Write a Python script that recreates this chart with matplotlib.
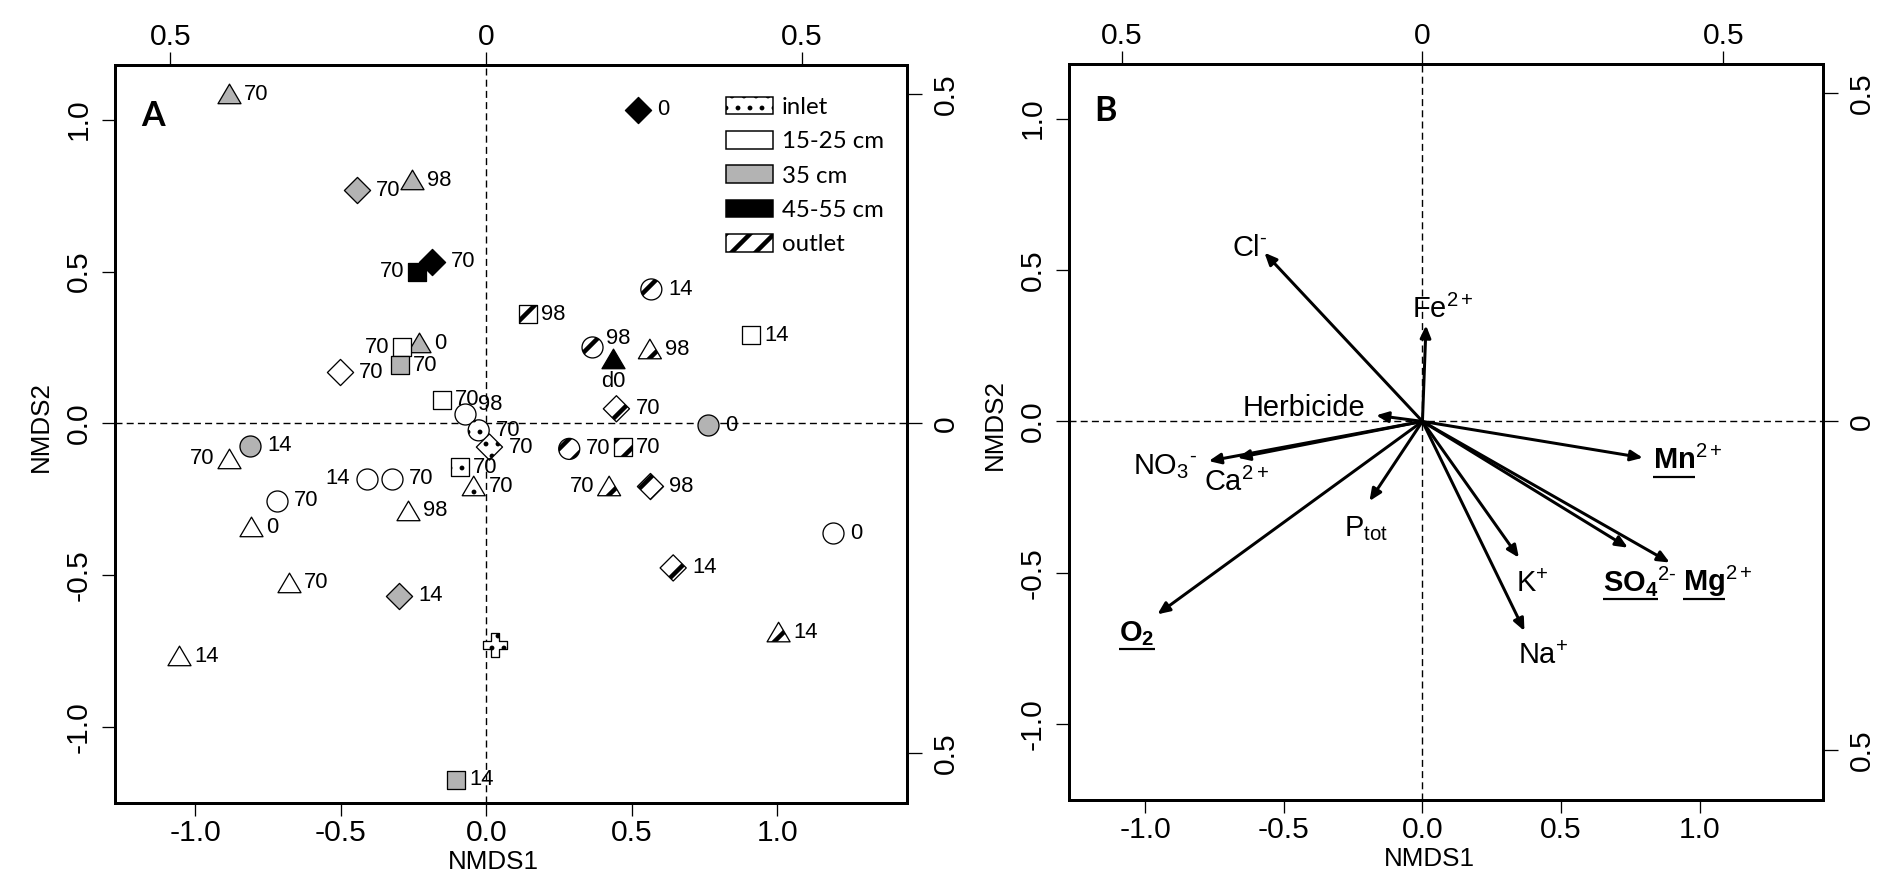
import numpy as np
import matplotlib
matplotlib.use('Agg')
import matplotlib.pyplot as plt
from matplotlib.patches import Rectangle
from matplotlib.path import Path

# ---------------- data ----------------
# Panel A: NMDS site scores
site_x = [-0.884, 0.522, -0.443, -0.254, -0.237, -0.186, 0.142, 0.567, 0.910, -0.289,
          -0.232, -0.295, -0.502, 0.365, 0.436, 0.562, -0.152, -0.072, 0.447, 0.761,
          -0.026, 0.011, -0.089, -0.043, -0.810, -0.882, -0.409, -0.325, -0.719, -0.269,
          -0.808, 0.285, 0.468, 0.422, 0.564, 1.192, -0.677, -0.300, 0.642, 0.029,
          -1.054, 1.004, -0.103]
site_y = [1.083, 1.033, 0.767, 0.800, 0.499, 0.532, 0.360, 0.441, 0.290, 0.250,
          0.263, 0.191, 0.169, 0.250, 0.213, 0.243, 0.078, 0.032, 0.048, -0.007,
          -0.023, -0.078, -0.144, -0.208, -0.073, -0.117, -0.183, -0.183, -0.254, -0.287,
          -0.342, -0.084, -0.078, -0.208, -0.208, -0.362, -0.524, -0.568, -0.476, -0.730,
          -0.766, -0.689, -1.173]
site_depth = ['35 cm', '45-55 cm', '35 cm', '35 cm', '45-55 cm', '45-55 cm', 'outlet', 'outlet', '15-25 cm', '15-25 cm',
              '35 cm', '35 cm', '15-25 cm', 'outlet', '45-55 cm', 'outlet', '15-25 cm', '15-25 cm', 'outlet', '35 cm',
              'inlet', 'inlet', 'inlet', 'inlet', '35 cm', '15-25 cm', '15-25 cm', '15-25 cm', '15-25 cm', '15-25 cm',
              '15-25 cm', 'outlet', 'outlet', 'outlet', 'outlet', '15-25 cm', '15-25 cm', '35 cm', 'outlet', 'inlet',
              '15-25 cm', 'outlet', '35 cm']
site_shape = ['tri', 'dia', 'dia', 'tri', 'sq', 'dia', 'sq', 'circ', 'sq', 'sq',
              'tri', 'sq', 'dia', 'circ', 'tri', 'tri', 'sq', 'circ', 'dia', 'circ',
              'circ', 'dia', 'sq', 'tri', 'circ', 'tri', 'circ', 'circ', 'circ', 'tri',
              'tri', 'circ', 'sq', 'tri', 'dia', 'circ', 'tri', 'dia', 'dia', 'cross',
              'tri', 'tri', 'sq']
site_day = ['70', '0', '70', '98', '70', '70', '98', '14', '14', '70',
            '0', '70', '70', '98', 'd0', '98', '70', '98', '70', '0',
            '70', '70', '70', '70', '14', '70', '14', '70', '70', '98',
            '0', '70', '70', '70', '98', '0', '70', '14', '14', '',
            '14', '14', '14']
legend_labels = ['inlet', '15-25 cm', '35 cm', '45-55 cm', 'outlet']

# Panel B: fitted environmental vectors
var_names = ['Cl-', 'Fe2+', 'Herbicide', 'NO3-', 'Ca2+', 'Ptot', 'O2',
             'Mn2+', 'K+', 'Na+', 'SO42-', 'Mg2+']
var_x = [-0.570, 0.013, -0.167, -0.771, -0.667, -0.191, -0.956,
         0.795, 0.348, 0.368, 0.741, 0.892]
var_y = [0.557, 0.317, 0.020, -0.131, -0.120, -0.263, -0.637,
         -0.120, -0.450, -0.692, -0.417, -0.466]

# ---------------- layout / style (not data) ----------------
label_side = ['r', 'r', 'r', 'r', 'l', 'r', 'r', 'r', 'r', 'l',
              'r', 'r', 'r', 'ur', 'b', 'r', 'r', 'ur', 'r', 'r',
              'r', 'r', 'r', 'r', 'r', 'l', 'l', 'r', 'r', 'r',
              'r', 'r', 'r', 'l', 'r', 'r', 'r', 'r', 'r', '',
              'r', 'r', 'r']
var_text = {
    'Cl-': r'$\mathregular{Cl^{\text{-}}}$',
    'Fe2+': r'$\mathregular{Fe^{2+}}$',
    'Herbicide': 'Herbicide',
    'NO3-': r'$\mathregular{NO_3}^{\text{-}}$',
    'Ca2+': r'$\mathregular{Ca^{2+}}$',
    'Ptot': r'$\mathregular{P_{tot}}$',
    'O2': r'$\mathbf{O_2}$',
    'Mn2+': r'$\mathbf{Mn}^{\mathregular{2+}}$',
    'K+': r'$\mathregular{K^{+}}$',
    'Na+': r'$\mathregular{Na^{+}}$',
    'SO42-': r'$\mathbf{SO_4}^{\mathregular{2}\text{-}}$',
    'Mg2+': r'$\mathbf{Mg}^{\mathregular{2+}}$',
}
underline_base = {'O2': r'$\mathbf{O_2}$', 'Mn2+': r'$\mathbf{Mn}$',
                  'SO42-': r'$\mathbf{SO_4}$', 'Mg2+': r'$\mathbf{Mg}$'}
# label anchor (left, baseline) in data coords
var_label_pos = {
    'Cl-': (-0.686, 0.545), 'Fe2+': (-0.036, 0.343), 'Herbicide': (-0.650, 0.017),
    'NO3-': (-1.043, -0.175), 'Ca2+': (-0.787, -0.231), 'Ptot': (-0.282, -0.380),
    'O2': (-1.094, -0.726), 'Mn2+': (0.830, -0.158), 'K+': (0.339, -0.564),
    'Na+': (0.343, -0.802), 'SO42-': (0.650, -0.561), 'Mg2+': (0.939, -0.561),
}

DPI = 72
plt.rcParams['font.family'] = ['Liberation Sans', 'DejaVu Sans']
plt.rcParams['mathtext.fontset'] = 'custom'
plt.rcParams['mathtext.rm'] = 'Liberation Sans'
plt.rcParams['mathtext.bf'] = 'Liberation Sans:bold'
plt.rcParams['mathtext.it'] = 'Liberation Sans:italic'
plt.rcParams['axes.unicode_minus'] = False
plt.rcParams['hatch.color'] = 'black'

HATCH_LW = {'outlet': 4.5, 'inlet': 2.4}
GRAY = '#b3b3b3'
depth_style = {
    'inlet': dict(fc='white', hatch='.'),
    '15-25 cm': dict(fc='white', hatch=None),
    '35 cm': dict(fc=GRAY, hatch=None),
    '45-55 cm': dict(fc='black', hatch=None),
    'outlet': dict(fc='white', hatch='/'),
}
tri_path = Path([(-1, -0.8), (1, -0.8), (0, 0.9), (-1, -0.8)],
                [Path.MOVETO, Path.LINETO, Path.LINETO, Path.CLOSEPOLY])
shape_marker = {'circ': ('o', 21), 'sq': ('s', 18), 'tri': (tri_path, 23),
                'dia': ('D', 18.5), 'cross': ('P', 24)}
shape_off = {'circ': 17, 'sq': 13, 'tri': 15, 'dia': 19, 'cross': 15}

K = 2.17  # species-score axis scale

fig = plt.figure(figsize=(1883 / DPI, 890 / DPI), dpi=DPI)
axA = fig.add_axes([115 / 1883, (890 - 803) / 890, 792 / 1883, 738 / 890])
axB = fig.add_axes([1069 / 1883, (890 - 800) / 890, 754 / 1883, 736 / 890])

ticks = [-1.0, -0.5, 0.0, 0.5, 1.0]
tlabels = ['-1.0', '-0.5', '0.0', '0.5', '1.0']


def setup(ax):
    ax.set_xlim(-1.275, 1.445)
    ax.set_ylim(-1.25, 1.18)
    ax.set_xticks(ticks)
    ax.set_xticklabels(tlabels)
    ax.set_yticks(ticks)
    ax.set_yticklabels(tlabels, rotation=90, va='center')
    ax.tick_params(axis='both', direction='out', length=13, width=1.3,
                   labelsize=30)
    ax.tick_params(axis='x', pad=3)
    ax.tick_params(axis='y', pad=9)
    for sp in ax.spines.values():
        sp.set_linewidth(3)
    ax.axhline(0, ls=(0, (5, 3)), lw=1.4, color='black', zorder=1)
    ax.axvline(0, ls=(0, (5, 3)), lw=1.4, color='black', zorder=1)
    sx = ax.secondary_xaxis('top', functions=(lambda v: v / K, lambda v: v * K))
    sx.set_ticks([-0.5, 0, 0.5], labels=['0.5', '0', '0.5'])
    sx.tick_params(direction='out', length=13, width=1.3, labelsize=30, pad=1)
    sx.spines['top'].set_linewidth(3)
    sy = ax.secondary_yaxis('right', functions=(lambda v: v / K, lambda v: v * K))
    sy.set_ticks([-0.5, 0, 0.5], labels=['0.5', '0', '0.5'], rotation=90, va='center')
    sy.tick_params(direction='out', length=15, width=1.3, labelsize=30, pad=10)
    sy.spines['right'].set_linewidth(3)
    ax.set_xlabel('NMDS1', fontsize=26, labelpad=3)
    ax.set_ylabel('NMDS2', fontsize=26, labelpad=12)
    ax.xaxis.label.set_x(0.478)
    ax.yaxis.label.set_y(0.51)


setup(axA)
setup(axB)

# ---------------- Panel A ----------------
sx_arr = np.array(site_x)
sy_arr = np.array(site_y)
groups = {}
for i, (d, s) in enumerate(zip(site_depth, site_shape)):
    groups.setdefault((d, s), []).append(i)
for (d, s), idx in groups.items():
    st = depth_style[d]
    mk, ms = shape_marker[s]
    kw = {}
    hlw = HATCH_LW.get(d, 1.0)
    if st['hatch']:
        kw['hatch'] = st['hatch']
    with plt.rc_context({'hatch.linewidth': hlw}):
        coll = axA.scatter(sx_arr[idx], sy_arr[idx], s=ms ** 2, marker=mk,
                           facecolor=st['fc'], edgecolor='black', linewidth=1.3,
                           zorder=3, **kw)
    if st['hatch'] and hasattr(coll, 'set_hatch_linewidth'):
        coll.set_hatch_linewidth(hlw)

for i, lab in enumerate(site_day):
    if not lab:
        continue
    off = shape_off[site_shape[i]]
    side = label_side[i]
    if side == 'r':
        xt, ha = (off, 0), 'left'
    elif side == 'l':
        xt, ha = (-off, 0), 'right'
    elif side == 'ur':
        xt, ha = (off - 4, 9), 'left'
    else:
        xt, ha = (0, -23), 'center'
    axA.annotate(lab, xy=(site_x[i], site_y[i]), xytext=xt,
                 textcoords='offset points', ha=ha, va='center',
                 fontsize=22, zorder=4)

handles = []
for name in legend_labels:
    st = depth_style[name]
    p = Rectangle((0, 0), 1, 1, facecolor=st['fc'], edgecolor='black',
                  linewidth=1.5, hatch=st['hatch'])
    handles.append(p)
leg = axA.legend(handles, legend_labels, loc='upper left',
                 bbox_to_anchor=(0.772, 0.957), frameon=False,
                 prop={'family': 'Lato', 'size': 24}, handlelength=1.92,
                 handleheight=0.75, handletextpad=0.4, labelspacing=0.55,
                 borderpad=0, borderaxespad=0)
for name, p in zip(legend_labels, leg.get_patches()):
    if depth_style[name]['hatch'] and hasattr(p, 'set_hatch_linewidth'):
        p.set_hatch_linewidth(HATCH_LW[name])
axA.text(0.0486, 0.931, 'A', transform=axA.transAxes, ha='center', va='center',
         fontsize=34, fontweight='bold', family='Lato')

# ---------------- Panel B ----------------
for name, x, y in zip(var_names, var_x, var_y):
    axB.annotate('', xy=(x, y), xytext=(0, 0),
                 arrowprops=dict(arrowstyle='-|>,head_length=0.5,head_width=0.22',
                                 lw=3, color='black', shrinkA=0, shrinkB=0,
                                 mutation_scale=20), zorder=3)
for name in var_names:
    lx, ly = var_label_pos[name]
    axB.text(lx, ly, var_text[name], ha='left', va='baseline', fontsize=29,
             zorder=4)
axB.text(0.048, 0.936, 'B', transform=axB.transAxes, ha='center', va='center',
         fontsize=34, fontweight='bold', family='Lato')

fig.canvas.draw()
renderer = fig.canvas.get_renderer()
for name, base in underline_base.items():
    lx, ly = var_label_pos[name]
    t = axB.text(lx, ly, base, ha='left', va='baseline', fontsize=29, alpha=0)
    bb = t.get_window_extent(renderer)
    _, by = axB.transData.transform((lx, ly))
    uy = by - 8
    inv = axB.transData.inverted()
    p0 = inv.transform((bb.x0, uy))
    p1 = inv.transform((bb.x1, uy))
    axB.plot([p0[0], p1[0]], [p0[1], p1[1]], color='black', lw=2.2,
             solid_capstyle='butt', zorder=4)
    t.remove()

fig.savefig('out.png', dpi=DPI)
